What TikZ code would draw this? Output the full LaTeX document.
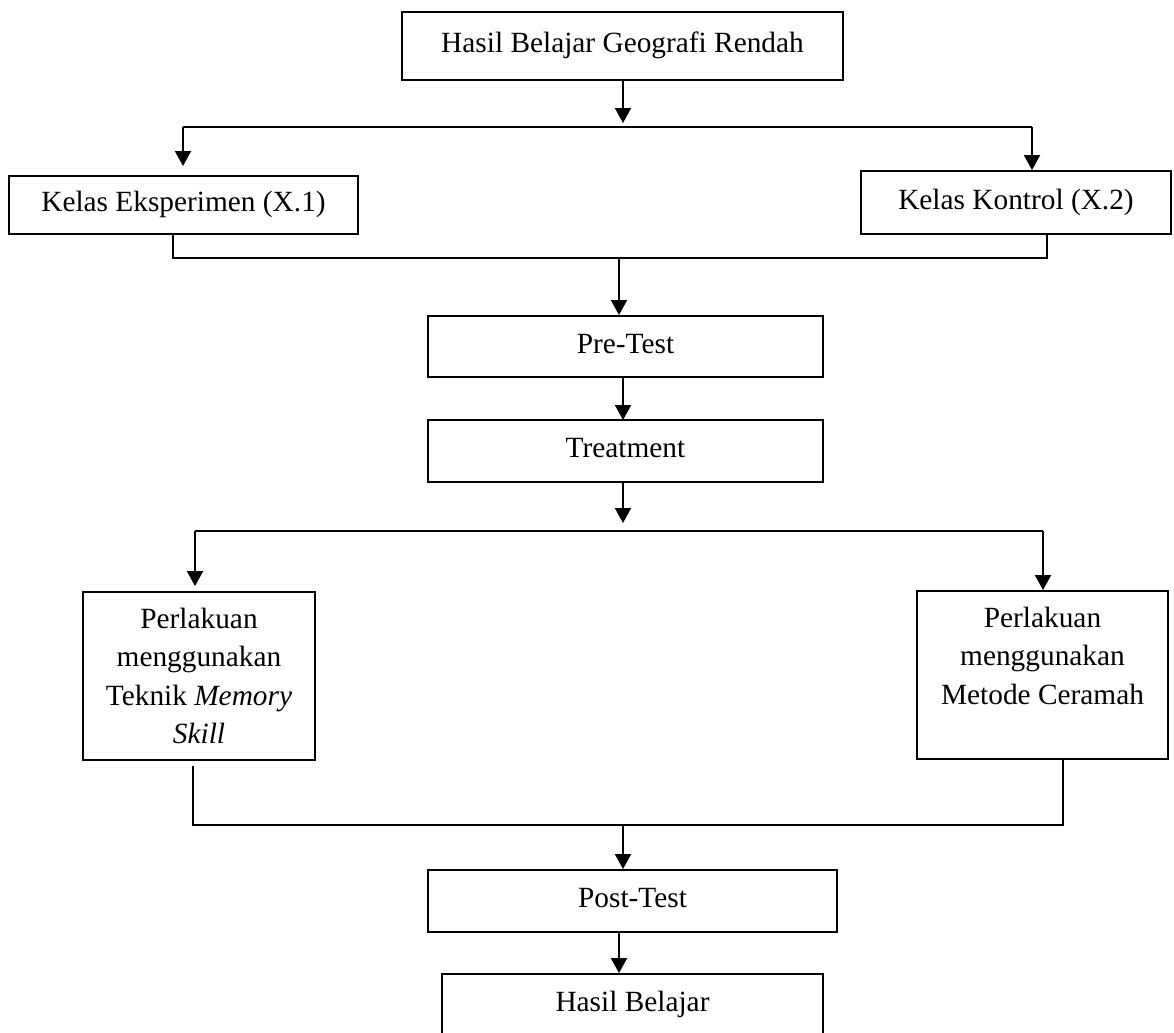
\documentclass[tikz,border=0pt]{standalone}
\usepackage{fontspec}
\setmainfont{Liberation Serif}
\usetikzlibrary{arrows.meta}

\begin{document}
\begin{tikzpicture}[x=0.02cm,y=-0.02cm,
  box/.style={draw,line width=1.1pt,inner sep=0pt,font=\fontsize{16.7}{21.9}\selectfont},
  onebox/.style={box,text height=11.7pt,text depth=4.2pt},
  tallbox/.style={box,align=center},
  link/.style={line width=1.1pt},
  arr/.style={link,-{Triangle[length=0.3cm,width=0.32cm]}}]

\useasboundingbox (0,0) rectangle (1174,1032);

\node[onebox,minimum width=8.82cm,minimum height=1.36cm] (H1) at (622.5,46) {Hasil Belajar Geografi Rendah};

\node[onebox,minimum width=6.98cm,minimum height=1.16cm] (K1) at (183.5,205) {Kelas Eksperimen (X.1)};
\node[onebox,minimum width=6.2cm,minimum height=1.26cm] (K2) at (1016,202.5) {Kelas Kontrol (X.2)};

\node[onebox,minimum width=7.9cm,minimum height=1.22cm] (PT) at (625.5,346.5) {Pre-Test};
\node[onebox,minimum width=7.9cm,minimum height=1.24cm] (TR) at (625.5,451) {Treatment};

\node[tallbox,minimum width=4.64cm,minimum height=3.36cm] (M1) at (199,676) {Perlakuan\\ menggunakan\\ Teknik \textit{Memory}\\ \textit{Skill}};
\node[tallbox,minimum width=5.02cm,minimum height=3.36cm] (M2) at (1042.5,675) {Perlakuan\\ menggunakan\\ Metode Ceramah\\ \mbox{}};

\node[onebox,minimum width=8.18cm,minimum height=1.24cm] (PO) at (632.5,901) {Post-Test};
\node[onebox,minimum width=7.62cm,minimum height=1.24cm] (HB) at (632.5,1005) {Hasil Belajar};

\coordinate (A1) at (623,123);
\coordinate (B1) at (183,127);
\coordinate (B2) at (1032,127);

\coordinate (C1) at (173,258);
\coordinate (C2) at (1047,258);
\coordinate (C3) at (619,258);
\coordinate (A3) at (623,420);

\coordinate (A2) at (623,523);
\coordinate (D1) at (195,531);
\coordinate (D2) at (1043,531);

\coordinate (E1) at (193,825);
\coordinate (E2) at (1063,825);
\coordinate (E3) at (623,825);
\coordinate (F1) at (619,932);

\draw[arr] (A1 |- H1.south) -- (A1);
\draw[link] (B1) -- (B2);
\draw[arr,shorten >=0.18cm] (B1) -- (B1 |- K1.north);
\draw[arr] (B2) -- (B2 |- K2.north);

\draw[link] (K1.south -| C1) -- (C1) -- (C2) -- (K2.south -| C2);
\draw[arr] (C3) -- (C3 |- PT.north);
\draw[arr] (A3 |- PT.south) -- (A3);

\draw[arr] (A2 |- TR.south) -- (A2);
\draw[link] (D1) -- (D2);
\draw[arr,shorten >=0.1cm] (D1) -- (D1 |- M1.north);
\draw[arr] (D2) -- (D2 |- M2.north);

\draw[link,shorten <=0.1cm] (M1.south -| E1) -- (E1) -- (E2) -- (M2.south -| E2);
\draw[arr] (E3) -- (E3 |- PO.north);
\draw[arr] (F1) -- (F1 |- HB.north);

\end{tikzpicture}
\end{document}
